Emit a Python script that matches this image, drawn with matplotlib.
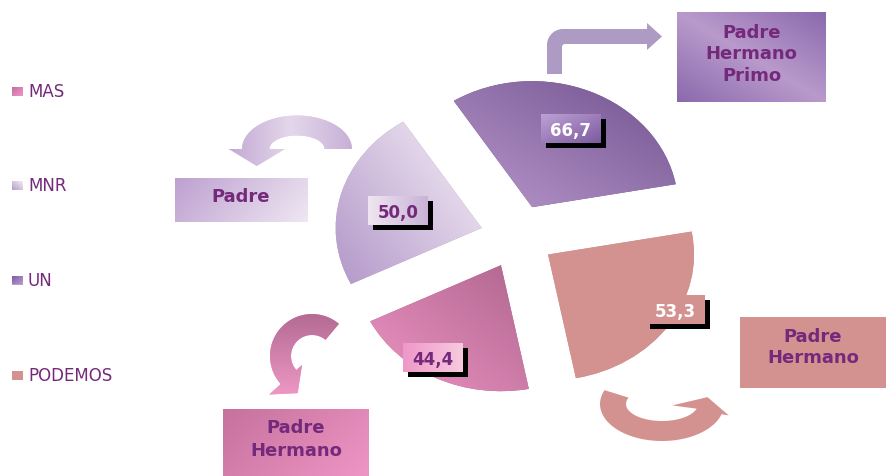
import numpy as np
import matplotlib
matplotlib.use('Agg')
import matplotlib.pyplot as plt
from matplotlib.colors import LinearSegmentedColormap
from matplotlib.patches import Polygon

# ---------------- data ----------------
categories = ['MAS', 'MNR', 'UN', 'PODEMOS']
values = [44.4, 50.0, 66.7, 53.3]
value_labels = ['44,4', '50,0', '66,7', '53,3']
relatives = ['Padre\nHermano', 'Padre', 'Padre\nHermano\nPrimo', 'Padre\nHermano']

# ---------------- styles ----------------
W, H = 887, 477
TXT = '#74297b'
wedge_style = {
    'MAS': (['#ee94c4', '#b0668f'], (1, 1)),
    'MNR': (['#f7f0f7', '#b196c8'], (-1, -0.8)),
    'UN': (['#b797ca', '#72528f'], (1, 1)),
    'PODEMOS': (['#d39290', '#d39290'], (1, 0)),
}
legend_style = {
    'MAS': (['#c66e9e', '#ef98c7'], (1, 1)),
    'MNR': (['#b59bca', '#f4eef5'], (1, -1)),
    'UN': (['#7a5a9c', '#b79bd0'], (1, 1)),
    'PODEMOS': (['#d39290', '#d39290'], (1, 0)),
}
vbox_style = {
    'MAS': (['#ee98c8', '#f7cadf'], (1, 0), TXT),
    'MNR': (['#efe6f1', '#c8b3d6'], (1, 0), TXT),
    'UN': (['#bea2d4', '#7c5aa0'], (1, 1), 'white'),
    'PODEMOS': (['#d39290', '#d39290'], (1, 0), 'white'),
}
tbox_style = {
    'MAS': ((223, 410, 369, 477), (296, [433.3, 456.0]), ['#c5729d', '#ef95c5'], (1, 0.5)),
    'MNR': ((175, 179, 308, 223), (241, [201.7]), ['#bda0d0', '#efe7f2'], (1, 0.3)),
    'UN': ((677, 13, 826, 103), (751.5, [37.5, 59.3, 81.0]), ['#8b69ad', '#b99acb', '#8b69ad'], (1, -1)),
    'PODEMOS': ((740, 318, 886, 389), (813, [341.7, 363.3]), ['#d39290', '#d39290'], (1, 0)),
}
lab_r = [0.868, 0.588, 0.674, 0.974]
lab_dang = [-6.3, 2.0, 0.5, 7.4]
legend_y = [92, 186.5, 281, 376]

fig = plt.figure(figsize=(W / 100, H / 100), dpi=100)

# pie axes (elliptical pie, stretched horizontally)
pcx, pcy, rx, ry, lim = 517.4, 237.5, 146.0, 126.0, 1.5
axp = fig.add_axes([(pcx - rx * lim) / W, (H - pcy - ry * lim) / H,
                    2 * rx * lim / W, 2 * ry * lim / H])
ov = fig.add_axes([0, 0, 1, 1])
ov.patch.set_visible(False)


def grad_fill(ax, patch, colors, direction, zorder):
    v = patch.get_patch_transform().transform(patch.get_path().vertices)
    x0, y0 = v.min(0)
    x1, y1 = v.max(0)
    n = 200
    U, V = np.meshgrid(np.linspace(0, 1, n), np.linspace(0, 1, n))
    P = U * direction[0] + V * direction[1]
    t = (P - P.min()) / max(P.max() - P.min(), 1e-9)
    cmap = LinearSegmentedColormap.from_list('g', colors)
    im = ax.imshow(cmap(t), extent=(x0, x1, y0, y1), origin='lower', aspect='auto',
                   interpolation='bilinear', zorder=zorder)
    im.set_clip_path(patch)


wedges, _ = axp.pie(values, explode=[0.254] * 4, startangle=281, counterclock=False,
                    radius=1, colors=[wedge_style[c][0][0] for c in categories],
                    wedgeprops=dict(linewidth=0))
for c, w in zip(categories, wedges):
    cols, d = wedge_style[c]
    w.set_facecolor(cols[len(cols) // 2])
    grad_fill(axp, w, cols, d, 2)
axp.set_aspect('auto')
axp.set_xlim(-lim, lim)
axp.set_ylim(-lim, lim)
axp.axis('off')


def poly(ax, pts, colors, direction, z):
    p = Polygon(pts, closed=True, facecolor=colors[len(colors) // 2], edgecolor='none', zorder=z)
    ax.add_patch(p)
    if colors[0] != colors[-1] or len(colors) > 2:
        grad_fill(ax, p, colors, direction, z + 0.01)
    return p


def rect(ax, x0, y0, x1, y1, colors, direction, z):
    return poly(ax, [(x0, y0), (x1, y0), (x1, y1), (x0, y1)], colors, direction, z)


# ---------------- legend ----------------
for c, y in zip(categories, legend_y):
    cols, d = legend_style[c]
    rect(ov, 12, y - 4.5, 23, y + 4.5, cols, d, 3)
    ov.text(28, y + 5.0, c, fontsize=12, color=TXT, va='baseline', ha='left',
            family='DejaVu Sans')

# ---------------- value boxes ----------------
for i, (c, w) in enumerate(zip(categories, wedges)):
    tm = np.deg2rad((w.theta1 + w.theta2) / 2 + lab_dang[i])
    cx, cy = w.center
    pt = (cx + lab_r[i] * np.cos(tm), cy + lab_r[i] * np.sin(tm))
    dx, dy = axp.transData.transform(pt)
    px, py = dx, H - dy
    cols, d, tc = vbox_style[c]
    rect(ov, px - 25, py - 9.5, px + 35, py + 19.5, ['#000000', '#000000'], (1, 0), 4)
    rect(ov, px - 30, py - 14.5, px + 30, py + 14.5, cols, d, 5)
    ov.text(px, py + 6.3, value_labels[i], fontsize=12, fontweight='bold', color=tc,
            ha='center', va='baseline', family='DejaVu Sans', zorder=6)

# ---------------- relation boxes ----------------
for c, rel in zip(categories, relatives):
    (x0, y0, x1, y1), (tx, bases), cols, d = tbox_style[c]
    rect(ov, x0, y0, x1, y1, cols, d, 3)
    for line, b in zip(rel.split('\n'), bases):
        ov.text(tx, b, line, fontsize=13, fontweight='bold', color=TXT, ha='center',
                va='baseline', family='DejaVu Sans', zorder=6)


# ---------------- arrows ----------------
def circ_arrow(cx, cy, rxo, ryo, rxi, ryi, t0, t1, bi, bo, tl, n=80):
    ts = np.deg2rad(np.linspace(t0, t1, n))
    outer = np.c_[cx + rxo * np.cos(ts), cy - ryo * np.sin(ts)]
    inner = np.c_[cx + rxi * np.cos(ts), cy - ryi * np.sin(ts)][::-1]
    te = np.deg2rad(t1)
    ob = (cx + rxo * bo * np.cos(te), cy - ryo * bo * np.sin(te))
    ib = (cx + rxi * bi * np.cos(te), cy - ryi * bi * np.sin(te))
    m = ((ob[0] + ib[0]) / 2, (ob[1] + ib[1]) / 2)
    rxm, rym = (rxo + rxi) / 2, (ryo + ryi) / 2
    dv = np.array([-rxm * np.sin(te), -rym * np.cos(te)])
    dv = dv / np.linalg.norm(dv)
    tip = (m[0] + tl * dv[0], m[1] + tl * dv[1])
    return np.vstack([outer, [ob, tip, ib], inner])


# MNR arrow
poly(ov, circ_arrow(297, 150, 55, 33.5, 27.5, 13.5, 0, 180, 0.44, 1.24, 17),
     ['#c3a9d3', '#e4d7eb', '#c7b0d6'], (1, 0), 3)
# MAS arrow
poly(ov, circ_arrow(312, 357, 42, 42, 21, 21, 50, 222, 0.64, 1.37, 18),
     ['#b36b93', '#ee97c5'], (0, 1), 3)
# PODEMOS arrow
poly(ov, circ_arrow(662, 405, 62, 37, 36, 17, 158, 344, 0.3, 1.12, 15),
     ['#d39290', '#d39290'], (1, 0), 3)

# bent arrow to UN box
R, r = 16, 3
a1 = np.linspace(np.pi, 1.5 * np.pi, 20)
a2 = np.linspace(1.5 * np.pi, np.pi, 10)
pts = [(547, 75)]
pts += list(zip(547 + R + R * np.cos(a1), 30 + R + R * np.sin(a1)))
pts += [(647, 30), (647, 24), (662, 37.5), (647, 51), (647, 45)]
pts += list(zip(562 + r + r * np.cos(a2), 45 + r + r * np.sin(a2)))
pts += [(562, 75)]
poly(ov, pts, ['#ae9bc4', '#ae9bc4'], (1, 0), 3)

ov.set_xlim(0, W)
ov.set_ylim(H, 0)
ov.axis('off')

fig.savefig('out.png', dpi=100)
